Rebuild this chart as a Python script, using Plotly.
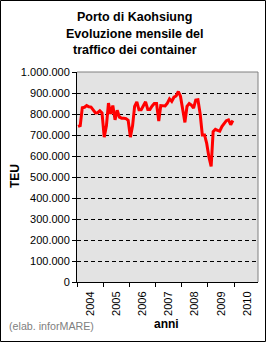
import plotly.graph_objects as go
import pandas as pd

# ---- data (TEU per month) ----
years = [2004, 2005, 2006, 2007, 2008, 2009]
teu_2004 = [741000, 745000, 830000, 832000, 840000, 834000, 833000, 818000, 805000, 806000, 815000, 805000]
teu_2005 = [690000, 745000, 852000, 800000, 840000, 772000, 818000, 785000, 780000, 780000, 778000, 770000]
teu_2006 = [690000, 745000, 836000, 858000, 820000, 820000, 836000, 858000, 822000, 822000, 838000, 850000]
teu_2007 = [850000, 766000, 840000, 840000, 838000, 852000, 872000, 860000, 880000, 886000, 907000, 885000]
teu_2008 = [815000, 760000, 836000, 850000, 842000, 828000, 866000, 868000, 800000, 700000, 700000, 660000]
teu_2009 = [595000, 550000, 716000, 727000, 722000, 718000, 740000, 756000, 768000, 772000, 749000, 769000]
y_ticks = [0, 100000, 200000, 300000, 400000, 500000, 600000, 700000, 800000, 900000, 1000000]
axis_start = "2004-01-01"
axis_end = "2010-12-01"

values = teu_2004 + teu_2005 + teu_2006 + teu_2007 + teu_2008 + teu_2009
months = pd.date_range(f"{years[0]}-01-01", periods=len(values), freq="MS") + pd.Timedelta(days=14)

W, H = 267, 344
L, R, T, B = 77, 9, 72, 62
pw, ph = W - L - R, H - T - B

def px(x):
    return (x - L) / pw

def py(y):
    return (H - B - y) / ph

FONT = "Arial, Liberation Sans, sans-serif"

fig = go.Figure()
fig.add_trace(go.Scatter(x=months, y=values, mode="lines",
                         line=dict(color="#FF0000", width=3), hoverinfo="skip"))

fig.update_layout(
    width=W, height=H,
    margin=dict(l=L, r=R, t=T, b=B, pad=0),
    paper_bgcolor="white", plot_bgcolor="#E3E3E3",
    separators=",.",
    showlegend=False,
    font=dict(family=FONT, size=11, color="black"),
)

fig.update_xaxes(
    type="date", range=[axis_start, axis_end],
    dtick="M12", tick0="2004-01-01", tickformat="%Y", ticklabelmode="period",
    tickangle=-90, ticks="outside", ticklen=4, tickcolor="black", tickwidth=1,
    showline=True, linecolor="black", linewidth=1,
    showgrid=False, zeroline=False,
    tickfont=dict(family=FONT, size=11, color="black"),
)
fig.update_yaxes(
    range=[0, 1000000], tickvals=y_ticks, tickformat=",d",
    ticks="outside", ticklen=4, tickcolor="black", tickwidth=1,
    showline=True, linecolor="black", linewidth=1,
    showgrid=True, gridcolor="black", gridwidth=1, griddash="4px,3px",
    zeroline=False,
    tickfont=dict(family=FONT, size=11, color="black"),
)

# plot area top/right border (grey)
fig.add_shape(type="line", xref="paper", yref="paper", x0=0, x1=1, y0=1, y1=1,
              line=dict(color="#808080", width=1), layer="above")
fig.add_shape(type="line", xref="paper", yref="paper", x0=1, x1=1, y0=0, y1=1,
              line=dict(color="#808080", width=1), layer="above")
# outer frame
fig.add_shape(type="rect", xref="paper", yref="paper",
              x0=px(0.5), x1=px(265.5), y0=py(341.5), y1=py(0.5),
              line=dict(color="black", width=1), layer="above")

title_lines = ["Porto di Kaohsiung", "Evoluzione mensile del", "traffico dei container"]
title_y = [16.7, 33.7, 50.2]
for txt, yy in zip(title_lines, title_y):
    fig.add_annotation(text=f"<b>{txt}</b>", xref="paper", yref="paper",
                       x=px(134.5), y=py(yy), xanchor="center", yanchor="middle",
                       showarrow=False, font=dict(family=FONT, size=12.5, color="black"))

fig.add_annotation(text="<b>TEU</b>", xref="paper", yref="paper", x=px(15), y=py(176),
                   xanchor="center", yanchor="middle", textangle=-90, showarrow=False,
                   font=dict(family=FONT, size=12, color="black"))
fig.add_annotation(text="<b>anni</b>", xref="paper", yref="paper", x=px(166.5), y=py(324),
                   xanchor="center", yanchor="middle", showarrow=False,
                   font=dict(family=FONT, size=12, color="black"))
fig.add_annotation(text="(elab. inforMARE)", xref="paper", yref="paper", x=px(7), y=py(326),
                   xanchor="left", yanchor="middle", showarrow=False,
                   font=dict(family=FONT, size=10.7, color="#808080"))

fig.write_html("out.html")
